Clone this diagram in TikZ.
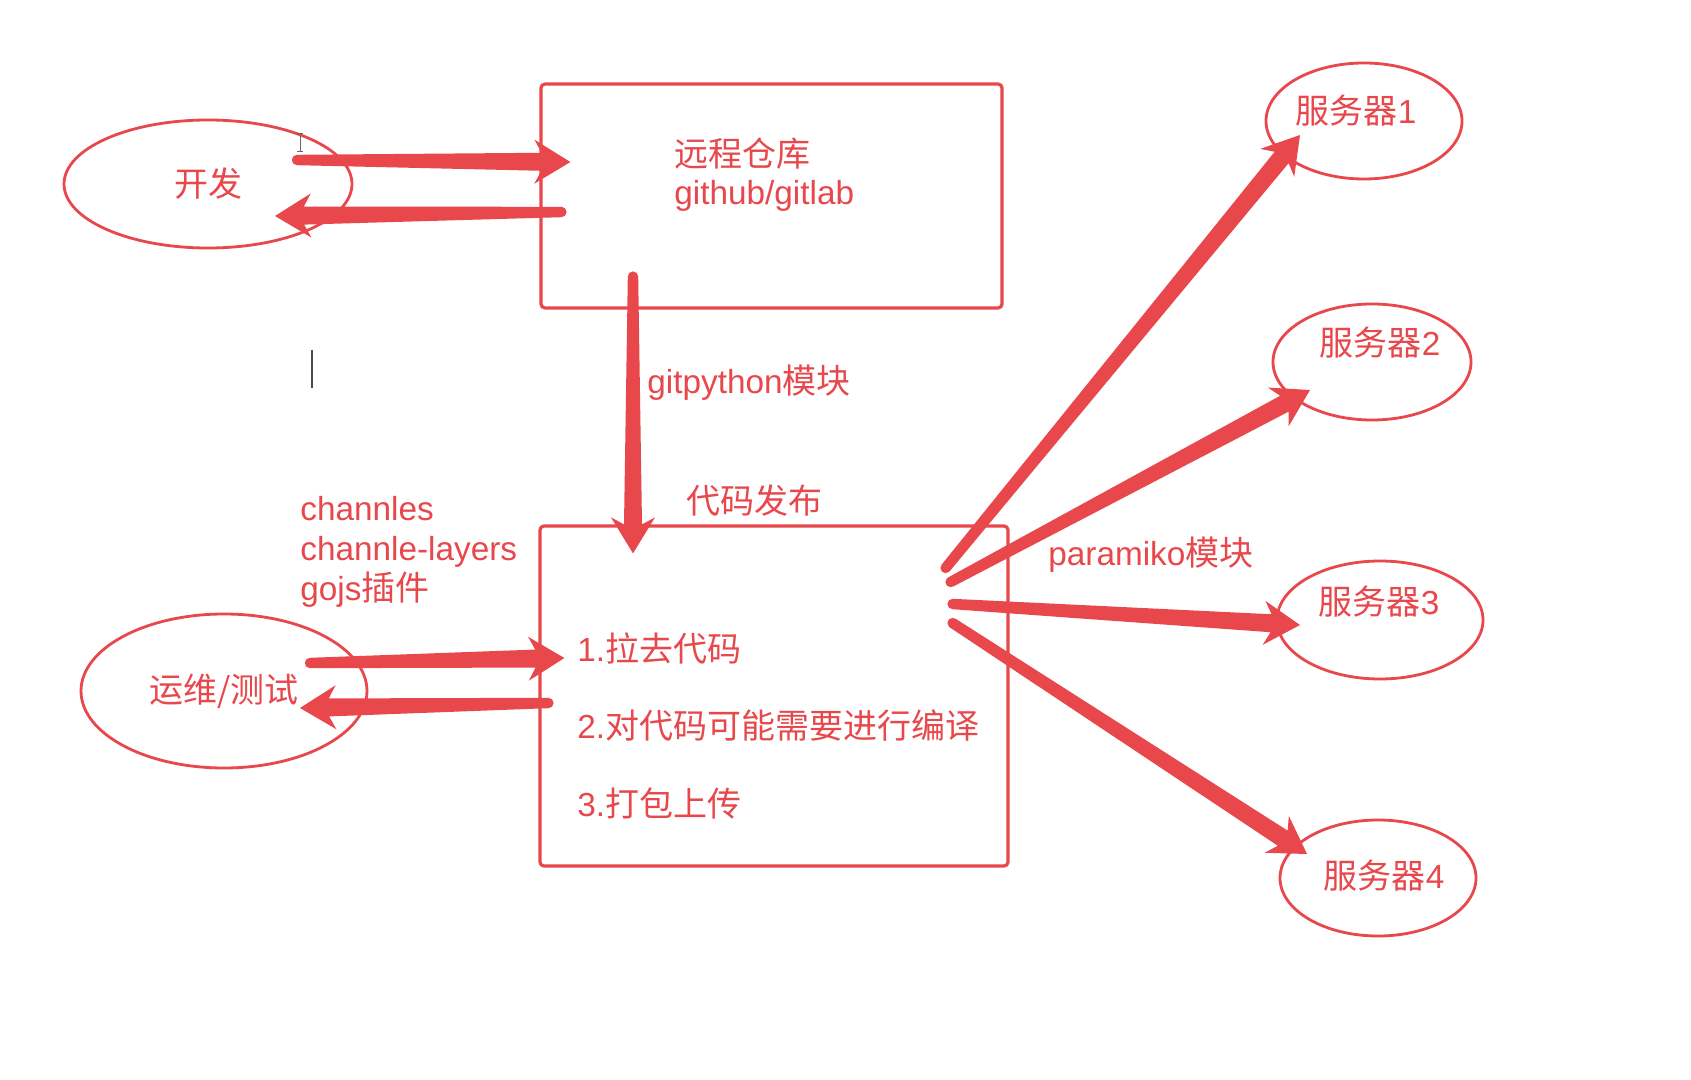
\documentclass[tikz,border=0pt]{standalone}
\usepackage{fontspec}
\setmainfont{Noto Sans CJK SC}
\newfontfamily\lat{Liberation Sans}[Scale=0.98]
\usetikzlibrary{shapes.geometric,calc}
\definecolor{mred}{HTML}{E8474B}
% tapered thick arrow, from #1 to #2
\newcommand\fatarr[2]{%
    \coordinate (fa) at #1; \coordinate (fb) at #2;
    \coordinate (fn) at ($(fb)!14.5pt!(fa)$); \coordinate (fh) at ($(fb)!18pt!(fa)$);
    \fill[mred] ($(fa)!2.6pt!90:(fb)$) -- ($(fn)!4.5pt!90:(fb)$) -- ($(fh)!11pt!90:(fb)$) -- (fb)
        -- ($(fh)!11pt!-90:(fb)$) -- ($(fn)!4.5pt!-90:(fb)$) -- ($(fa)!2.6pt!-90:(fb)$) -- cycle;
    \fill[mred] (fa) circle (2.6pt);
}

\begin{document}
\begin{tikzpicture}[x=0.5pt,y=-0.5pt,
    every node/.style={text=mred,font=\fontsize{17}{20}\selectfont},
    oval/.style={ellipse,draw=mred,line width=1.4pt,inner sep=0pt},
    box/.style={rectangle,draw=mred,line width=1.6pt,rounded corners=2pt,inner sep=0pt},
    txt/.style={anchor=west,inner sep=0pt,align=left}]
    \useasboundingbox (0,0) rectangle (1691,1080);
    \fill[white] (0,0) rectangle (1691,1080);

    \node[oval, minimum width=144pt, minimum height=64pt] (dev) at (208,184) {开发};
    \node[oval, minimum width=143pt, minimum height=77pt] (ops) at (224,691) {运维/测试};
    \node[box, minimum width=230.5pt, minimum height=112pt] (repo) at (771.5,196) {};
    \node[box, minimum width=234pt, minimum height=170pt] (build) at (774,696) {};
    \foreach \i/\x/\y/\rx/\ry/\dx/\dy in {1/1364/121/98/58/-8/-10, 2/1372/362/99/58/8/-19, 3/1380/620/103/59/-1/-18, 4/1378/878/98/58/6/-2}{
        \node[oval, minimum width=\rx pt, minimum height=\ry pt] (s\i) at (\x,\y) {};
        \node (s\i t) at ([shift={(\dx,\dy)}]s\i.center) {服务器{\lat\i}};
    }

    \node[txt, font=\fontsize{17}{19}\selectfont] (repotxt) at (674,175) {远程仓库\\{\lat github/gitlab}};
    \node[txt] (step1) at (577,648) {{\lat 1.}拉去代码}; \node[txt] (step2) at (577,726) {{\lat 2.}对代码可能需要进行编译};
    \node[txt] (step3) at (577,803) {{\lat 3.}打包上传};
    \node[txt] (gitpy) at (647,383) {{\lat gitpython}模块}; \node[txt] (publish) at (686,501) {代码发布};
    \node[txt] (plugins) at (300,552) {{\lat channles}\\{\lat channle-layers}\\{\lat gojs}插件};
    \node[txt] (paramiko) at (1048,555) {{\lat paramiko}模块};

    \fatarr{([shift={(89,-24)}]dev.center)}{([shift={(31,-34)}]repo.west)}
    \fatarr{([shift={(22,16)}]repo.west)}{([shift={(67,32)}]dev.center)}
    \fatarr{([shift={(-138.5,-33)}]repo.south)}{([shift={(-141,29)}]build.north)}
    \fatarr{([shift={(86,-28)}]ops.center)}{([shift={(26,-38)}]build.west)}
    \fatarr{([shift={(10,7)}]build.west)}{([shift={(76,17)}]ops.center)}
    \fatarr{([shift={(-64,-128)}]build.east)}{([shift={(-64,14)}]s1.center)}
    \fatarr{([shift={(-59,-114)}]build.east)}{([shift={(-62,28)}]s2.center)}
    \fatarr{([shift={(-57,-92)}]build.east)}{([shift={(-80,5)}]s3.center)}
    \fatarr{([shift={(-57,-73)}]build.east)}{([shift={(-71,-24)}]s4.center)}

    % cursor marks
    \draw[black!70, line width=0.6pt] (312,350) -- (312,388);
    \draw[black!60, line width=0.5pt] (300,134) -- (300,152) (297,134) -- (303,134) (297,152) -- (303,152);
\end{tikzpicture}
\end{document}
